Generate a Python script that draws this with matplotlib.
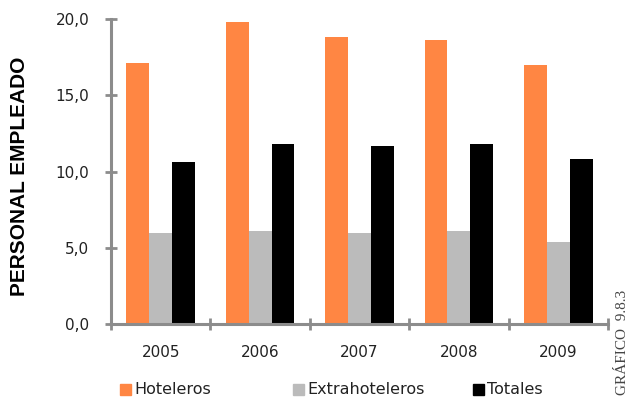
import matplotlib.pyplot as plt
import numpy as np
from matplotlib.patches import Rectangle

years = ['2005', '2006', '2007', '2008', '2009']
hoteleros = [17.1, 19.8, 18.8, 18.6, 17.0]
extrahoteleros = [6.0, 6.1, 6.0, 6.1, 5.4]
totales = [10.6, 11.8, 11.7, 11.8, 10.8]

series_names = ['Hoteleros', 'Extrahoteleros', 'Totales']
colors = ['#FF8643', '#BBBBBB', '#000000']

fig = plt.figure(figsize=(6.3, 3.99), dpi=100)
ax = fig.add_axes([111 / 630, 75 / 399, 497 / 630, 305 / 399])

x = np.arange(len(years))
w = 0.23
for i, vals in enumerate([hoteleros, extrahoteleros, totales]):
    ax.bar(x + (i - 1) * w, vals, width=w, color=colors[i], zorder=2)

ax.set_xlim(-0.5, len(years) - 0.5)
ax.set_ylim(0, 20)

# ejes grises
for s in ['top', 'right']:
    ax.spines[s].set_visible(False)
for s in ['left', 'bottom']:
    ax.spines[s].set_color('#8C8C8C')
    ax.spines[s].set_linewidth(2.2)
    ax.spines[s].set_zorder(3)

ax.set_yticks([0, 5, 10, 15, 20])
ax.set_yticklabels(['0,0', '5,0', '10,0', '15,0', '20,0'])
ax.tick_params(axis='y', direction='inout', length=9, width=2, color='#8C8C8C',
               labelsize=11, labelcolor='#222222', pad=11)

ax.set_xticks(np.arange(len(years) + 1) - 0.5)
ax.set_xticklabels([])
ax.set_xticks(x, minor=True)
ax.set_xticklabels(years, minor=True)
ax.tick_params(axis='x', which='major', direction='inout', length=9, width=2,
               color='#8C8C8C')
ax.tick_params(axis='x', which='minor', length=0, labelsize=11,
               labelcolor='#222222', pad=15)

fig.text(20 / 630, 1 - 176 / 399, 'PERSONAL EMPLEADO', rotation=90, ha='center',
         va='center', fontsize=15, fontweight='bold', family='Liberation Sans')

fig.text(622 / 630, 1 - 342 / 399, 'GRÁFICO  9.8.3', rotation=90, ha='center',
         va='center', fontsize=11, family='Liberation Serif', color='#444444')

# leyenda manual
legend_x = [120, 293, 473]
for name, col, lx in zip(series_names, colors, legend_x):
    fig.patches.append(Rectangle((lx / 630, 4 / 399), 11 / 630, 11 / 399,
                                 transform=fig.transFigure, color=col))
    fig.text((lx + 14) / 630, 9.5 / 399, name, ha='left', va='center',
             fontsize=11.5, color='#222222')

fig.savefig('out.png', dpi=100)
